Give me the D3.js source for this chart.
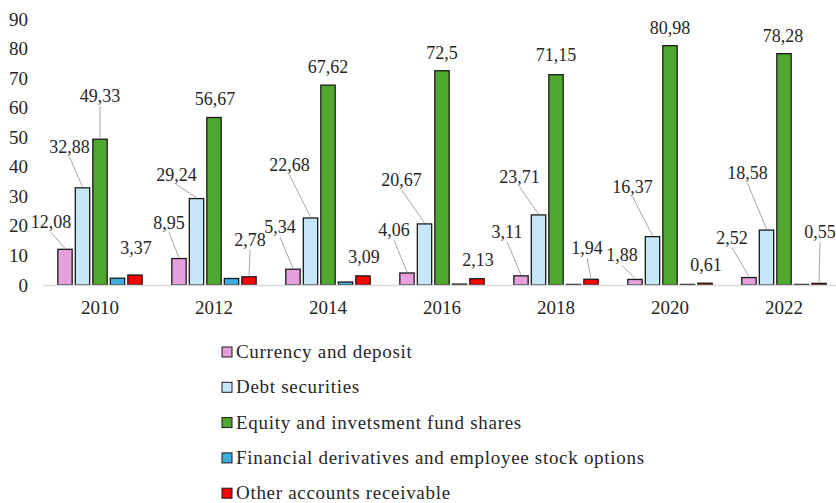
<!DOCTYPE html>
<html>
<head>
<meta charset="utf-8">
<script src="https://cdn.jsdelivr.net/npm/d3@7"></script>
<style>
  body { margin: 0; background: #fff; }
  text { font-family: "Liberation Serif", "Times New Roman", serif; fill: #262626; }
</style>
</head>
<body>
<svg id="chart" width="836" height="503"></svg>
<script>
// data
const years = ["2010", "2012", "2014", "2016", "2018", "2020", "2022"]
const seriesNames = [
  "Currency and deposit",
  "Debt securities",
  "Equity and invetsment fund shares",
  "Financial derivatives and employee stock options",
  "Other accounts receivable"
]
const currency = [12.08, 8.95, 5.34, 4.06, 3.11, 1.88, 2.52]
const debt = [32.88, 29.24, 22.68, 20.67, 23.71, 16.37, 18.58]
const equity = [49.33, 56.67, 67.62, 72.5, 71.15, 80.98, 78.28]
const derivatives = [2.3, 2.2, 1.0, 0.3, 0.2, 0.2, 0.2]
const receivable = [3.37, 2.78, 3.09, 2.13, 1.94, 0.61, 0.55]
const yTicks = [0, 10, 20, 30, 40, 50, 60, 70, 80, 90]
const colors = ["#E6A0DD", "#C6E7F7", "#4EA72E", "#3DAEE0", "#FF0000"]

// which series carry a data label
const labelled = [true, true, true, false, true]

// label position, pixels from the top centre of its bar [dx, dy]
const labelOffsets = [
  [[-14, -27], [-10, -36], [-13, -42], [-13, -43], [-14, -44], [-13, -24], [-17, -40]],
  [[-13, -41], [-20, -24], [-21, -53], [-23, -44], [-19, -38], [-20, -50], [-19, -57]],
  [[0, -43], [1, -19], [0, -18], [0, -18], [0, -20], [0, -18], [-1, -18]],
  null,
  [[1, -27], [1, -37], [1, -19], [1, -19], [-4, -31], [1, -18], [1, -51]]
]

const allSeries = [currency, debt, equity, derivatives, receivable]
const fmt = v => String(v).replace(".", ",")

const svg = d3.select("#chart")
const margin = {top: 19, bottom: 285, left: 43, right: 841}

const x0 = d3.scaleBand().domain(years).range([margin.left, margin.right]).padding(0)
const x1 = d3.scaleBand().domain(d3.range(5))
  .range([x0.bandwidth() * 0.13, x0.bandwidth() * 0.87]).paddingInner(0.18)
const y = d3.scaleLinear().domain([0, 90]).range([margin.bottom, margin.top])

// y axis labels, no line
const yAxis = svg.append("g")
  .attr("transform", `translate(${margin.left - 4},0)`)
  .call(d3.axisLeft(y).tickValues(yTicks).tickSize(0).tickPadding(11))
yAxis.select(".domain").remove()
yAxis.selectAll("text")
  .style("font-family", "Liberation Serif, serif")
  .style("font-size", "19px")
  .attr("fill", "#262626")

// bars
allSeries.forEach((vals, s) => {
  svg.append("g").selectAll("rect")
    .data(vals)
    .join("rect")
      .attr("x", (d, i) => x0(years[i]) + x1(s))
      .attr("y", d => y(d))
      .attr("width", x1.bandwidth())
      .attr("height", d => y(0) - y(d))
      .attr("fill", colors[s])
      .attr("stroke", "#1a1a1a")
      .attr("stroke-width", 1.3)
})

// x axis line + labels
svg.append("line")
  .attr("x1", margin.left).attr("x2", 836)
  .attr("y1", y(0) + 0.5).attr("y2", y(0) + 0.5)
  .attr("stroke", "#D9D9D9").attr("stroke-width", 1.5)

const xAxis = svg.append("g")
  .attr("transform", `translate(0,${y(0)})`)
  .call(d3.axisBottom(x0).tickSize(0).tickPadding(16))
xAxis.select(".domain").remove()
xAxis.selectAll("text")
  .style("font-family", "Liberation Serif, serif")
  .style("font-size", "19px")
  .attr("fill", "#262626")

// data labels with leader lines
allSeries.forEach((vals, s) => {
  if (!labelled[s]) return
  vals.forEach((v, i) => {
    const bx = x0(years[i]) + x1(s) + x1.bandwidth() / 2
    const by = y(v)
    const [dx, dy] = labelOffsets[s][i]
    const lx = bx + dx, ly = by + dy
    if (Math.abs(dx) > 5 || dy < -30) {
      svg.append("line")
        .attr("x1", lx).attr("y1", ly + 10)
        .attr("x2", bx).attr("y2", by - 1)
        .attr("stroke", "#A6A6A6").attr("stroke-width", 1)
    }
    svg.append("text")
      .attr("x", lx).attr("y", ly + 6)
      .attr("text-anchor", "middle")
      .style("font-size", "18px")
      .text(fmt(v))
  })
})

// legend
const legend = svg.append("g")
  .selectAll("g")
  .data(seriesNames)
  .join("g")
    .attr("transform", (d, i) => `translate(222,${352 + i * 35.3})`)
legend.append("rect")
  .attr("x", 0).attr("y", -5).attr("width", 10).attr("height", 10)
  .attr("fill", (d, i) => colors[i])
  .attr("stroke", "#1a1a1a").attr("stroke-width", 1)
legend.append("text")
  .attr("x", 14).attr("y", 6)
  .style("font-size", "19px")
  .style("letter-spacing", "0.7px")
  .text(d => d)
</script>
</body>
</html>
